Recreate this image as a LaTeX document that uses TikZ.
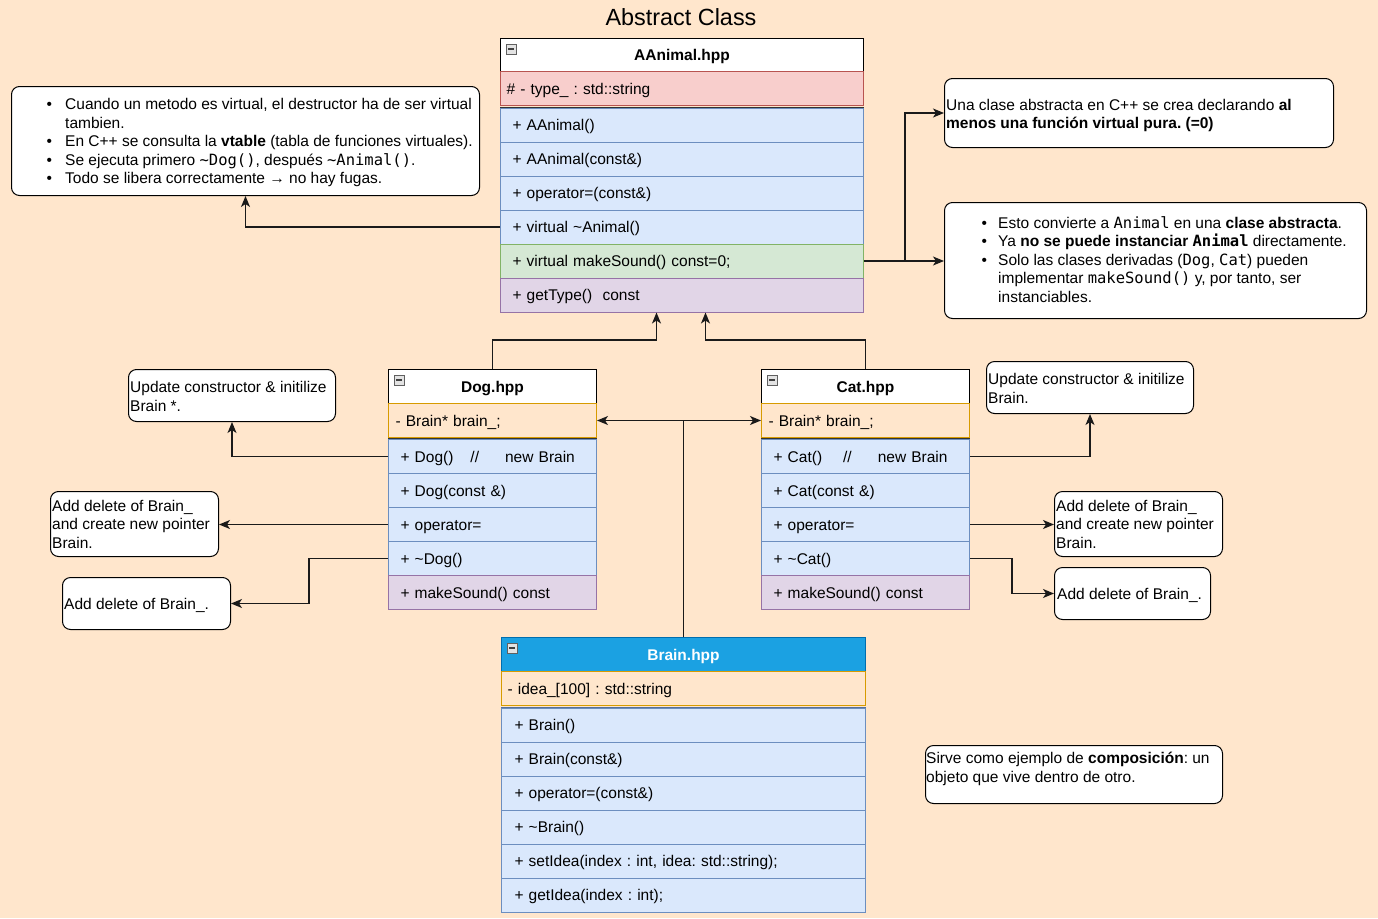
\documentclass[tikz,border=0pt]{standalone}
\usepackage{fontspec}
\setmainfont{Liberation Sans}
\newfontfamily\monofont{DejaVu Sans Mono}
\usetikzlibrary{arrows.meta,calc}

\definecolor{bgcol}{HTML}{FFE6CC}
\definecolor{blueF}{HTML}{DAE8FC}\definecolor{blueS}{HTML}{6C8EBF}
\definecolor{redF}{HTML}{F8CECC}\definecolor{redS}{HTML}{B85450}
\definecolor{greenF}{HTML}{D5E8D4}\definecolor{greenS}{HTML}{82B366}
\definecolor{purpF}{HTML}{E1D5E7}\definecolor{purpS}{HTML}{9673A6}
\definecolor{orF}{HTML}{FFE6CC}\definecolor{orS}{HTML}{D79B00}
\definecolor{brainF}{HTML}{1BA1E2}\definecolor{brainS}{HTML}{006EAF}
\definecolor{linecol}{HTML}{1A1A1A}

\newcommand\basefont{\fontsize{15.5pt}{18.5pt}\selectfont\frenchspacing}
\newcommand\mono[1]{{\monofont #1}}

% small collapse toggle in the top-left corner of a class header
\newcommand\hdrtoggle[1]{%
  \draw[fill=gray!22, draw=gray!75!black, line width=0.6pt]
    ([shift={(6pt,-6pt)}]#1.north west) rectangle ++(10pt,-10pt);
  \draw[line width=1.2pt, black!75]
    ([shift={(8pt,-11pt)}]#1.north west) -- ++(6pt,0pt);}

\tikzset{
  base/.style={anchor=north west, inner ysep=0pt, font=\basefont, text=black, line width=1pt,
               text height=11.5pt, text depth=0pt},
  hdr/.style={base, draw=black, fill=white, inner xsep=0pt, align=center, font=\basefont\bfseries},
  arow/.style={base, minimum height=34pt, align=left},
  mrow/.style={base, minimum height=34pt, inner xsep=12pt, align=left},
  cblue/.style={fill=blueF, draw=blueS},
  cred/.style={fill=redF, draw=redS},
  cgreen/.style={fill=greenF, draw=greenS},
  cpurp/.style={fill=purpF, draw=purpS},
  corange/.style={fill=orF, draw=orS},
  sepline/.style={line width=1.2pt, draw=black!80},
  note/.style={draw=black, fill=white, rounded corners=8pt, line width=1pt, anchor=north west, inner sep=0pt},
  ntext/.style={anchor=west, inner sep=0pt, align=left, font=\basefont, text=black, yshift=-2.5pt},
  arr/.style={draw=linecol, line width=1.3pt, -{Stealth[length=11pt,width=9pt,inset=3pt]}},
}

\begin{document}
\begin{tikzpicture}[x=1pt, y=-1pt]
\useasboundingbox (0,0) rectangle (1378,918);
\fill[bgcol] (0,0) rectangle (1378,918);

\node[font=\fontsize{23.4pt}{28pt}\selectfont, inner sep=0pt] (title) at (681,17) {Abstract Class};

% ---------------- AAnimal ----------------
\node[hdr, text width=363pt, minimum height=33pt] (aah) at (500,38) {AAnimal.hpp};
\hdrtoggle{aah}
\node[arow, cred, inner xsep=6pt, text width=351pt] (aaa) at (500,71) {\# - type\_ : std::string};
\draw[sepline] ([yshift=-1.5pt]aaa.south west) -- ([yshift=-1.5pt]aaa.south east);
\node[mrow, cblue, text width=339pt] (aa1) at (500,107.5) {+ AAnimal()};
\node[mrow, cblue, text width=339pt] (aa2) at (500,141.5) {+ AAnimal(const\&)};
\node[mrow, cblue, text width=339pt] (aa3) at (500,175.5) {+ operator=(const\&)};
\node[mrow, cblue, text width=339pt] (aa4) at (500,209.5) {+ virtual \textasciitilde Animal()};
\node[mrow, cgreen, text width=339pt] (aa5) at (500,243.5) {+ virtual makeSound() const=0;};
\node[mrow, cpurp, text width=339pt] (aa6) at (500,277.5) {+ getType()\ \ const};

% ---------------- Dog ----------------
\node[hdr, text width=208pt, minimum height=34pt] (dogh) at (388,369) {Dog.hpp};
\hdrtoggle{dogh}
\node[arow, corange, inner xsep=7pt, text width=194pt] (doga) at (388,403) {- Brain* brain\_;};
\draw[sepline] ([yshift=-1pt]doga.south west) -- ([yshift=-1pt]doga.south east);
\node[mrow, cblue, text width=184pt] (d1) at (388,439) {+ Dog()\hspace{17pt}//\hspace{26pt}new Brain};
\node[mrow, cblue, text width=184pt] (d2) at (388,473) {+ Dog(const \&)};
\node[mrow, cblue, text width=184pt] (d3) at (388,507) {+ operator=};
\node[mrow, cblue, text width=184pt] (d4) at (388,541) {+ \textasciitilde Dog()};
\node[mrow, cpurp, text width=184pt] (d5) at (388,575) {+ makeSound() const};

% ---------------- Cat ----------------
\node[hdr, text width=208pt, minimum height=34pt] (cath) at (761,369) {Cat.hpp};
\hdrtoggle{cath}
\node[arow, corange, inner xsep=7pt, text width=194pt] (cata) at (761,403) {- Brain* brain\_;};
\draw[sepline] ([yshift=-1pt]cata.south west) -- ([yshift=-1pt]cata.south east);
\node[mrow, cblue, text width=184pt] (c1) at (761,439) {+ Cat()\hspace{21pt}//\hspace{26pt}new Brain};
\node[mrow, cblue, text width=184pt] (c2) at (761,473) {+ Cat(const \&)};
\node[mrow, cblue, text width=184pt] (c3) at (761,507) {+ operator=};
\node[mrow, cblue, text width=184pt] (c4) at (761,541) {+ \textasciitilde Cat()};
\node[mrow, cpurp, text width=184pt] (c5) at (761,575) {+ makeSound() const};

% ---------------- Brain ----------------
\node[hdr, fill=brainF, draw=brainS, text=white, text width=364pt, minimum height=34pt] (brainh) at (501,637) {Brain.hpp};
\hdrtoggle{brainh}
\node[arow, corange, inner xsep=6pt, text width=352pt] (braina) at (501,671) {- idea\_[100] : std::string};
\draw[line width=1pt, draw=blueS!80!black] ([yshift=-1pt]braina.south west) -- ([yshift=-1pt]braina.south east);
\node[mrow, cblue, inner xsep=13pt, text width=338pt] (b1) at (501,707.5) {+ Brain()};
\node[mrow, cblue, inner xsep=13pt, text width=338pt] (b2) at (501,741.5) {+ Brain(const\&)};
\node[mrow, cblue, inner xsep=13pt, text width=338pt] (b3) at (501,775.5) {+ operator=(const\&)};
\node[mrow, cblue, inner xsep=13pt, text width=338pt] (b4) at (501,809.5) {+ \textasciitilde Brain()};
\node[mrow, cblue, inner xsep=13pt, text width=338pt] (b5) at (501,843.5) {+ setIdea(index : int, idea: std::string);};
\node[mrow, cblue, inner xsep=13pt, text width=338pt] (b6) at (501,877.5) {+ getIdea(index : int);};

% ---------------- notes ----------------
\node[note, minimum width=468pt, minimum height=109pt] (n1) at (11,86) {};
\node[ntext] (n1t) at (46.5,140.5) {\begin{tabular}{@{}p{18.5pt}@{}l@{}}
\textbullet & Cuando un metodo es virtual, el destructor ha de ser virtual\\
 & tambien.\\
\textbullet & En C++ se consulta la \textbf{vtable} (tabla de funciones virtuales).\\
\textbullet & Se ejecuta primero \mono{\textasciitilde Dog()}, después \mono{\textasciitilde Animal()}.\\
\textbullet & Todo se libera correctamente → no hay fugas.
\end{tabular}};

\node[note, minimum width=389pt, minimum height=69pt] (n2) at (944,78) {};
\node[ntext] (n2t) at (946,113) {Una clase abstracta en C++ se crea declarando \textbf{al}\\
\textbf{menos una función virtual pura. (=0)}};

\node[note, minimum width=422pt, minimum height=116pt] (n3) at (944,202) {};
\node[ntext] (n3t) at (981.5,259) {\begin{tabular}{@{}p{16.5pt}@{}l@{}}
\textbullet & Esto convierte a \mono{Animal} en una \textbf{clase abstracta}.\\
\textbullet & Ya \textbf{no se puede instanciar \mono{Animal}} directamente.\\
\textbullet & Solo las clases derivadas (\mono{Dog}, \mono{Cat}) pueden\\
 & implementar \mono{makeSound()} y, por tanto, ser\\
 & instanciables.
\end{tabular}};

\node[note, minimum width=207pt, minimum height=52pt] (dn1) at (128,369) {};
\node[ntext] (dn1t) at (130,394) {Update constructor \& initilize\\Brain *.};
\node[note, minimum width=168pt, minimum height=65pt] (dn2) at (50,491) {};
\node[ntext] (dn2t) at (52,521.5) {Add delete of Brain\_\\and create new pointer\\Brain.};
\node[note, minimum width=168pt, minimum height=52pt] (dn3) at (62,577) {};
\node[ntext] (dn3t) at (64,603) {Add delete of Brain\_.};

\node[note, minimum width=207pt, minimum height=52pt] (cn1) at (986,361) {};
\node[ntext] (cn1t) at (988,386) {Update constructor \& initilize\\Brain.};
\node[note, minimum width=168pt, minimum height=65pt] (cn2) at (1054,491) {};
\node[ntext] (cn2t) at (1056,521.5) {Add delete of Brain\_\\and create new pointer\\Brain.};
\node[note, minimum width=156pt, minimum height=52pt] (cn3) at (1054,567) {};
\node[ntext] (cn3t) at (1057,593) {Add delete of Brain\_.};

\node[note, minimum width=297pt, minimum height=58pt] (bn) at (925,745) {};
\node[ntext] (bnt) at (926,766.5) {Sirve como ejemplo de \textbf{composición}: un\\objeto que vive dentro de otro.};

% ---------------- connectors ----------------
\draw[arr] (dogh.north) -- ++(0,-29) -| ([xshift=-25.5pt]aa6.south);
\draw[arr] (cath.north) -- ++(0,-29) -| ([xshift=23.5pt]aa6.south);

\draw[arr] (brainh.north) |- (doga.east);
\draw[arr] (brainh.north) |- (cata.west);

\draw[arr] (aa4.west) -| (n1.south);
\draw[arr] (aa5.east) -- (aa5.east -| n3.west);
\draw[arr] (aa5.east) -- ++(41,0) |- (n2.west);

\draw[arr] (d1.west) -| (dn1.south);
\draw[arr] (d3.west) -- (d3.west -| dn2.east);
\draw[arr] (d4.west) -- ++(-79,0) |- (dn3.east);

\draw[arr] (c1.east) -| (cn1.south);
\draw[arr] (c3.east) -- (c3.east -| cn2.west);
\draw[arr] (c4.east) -- ++(42,0) |- (cn3.west);
\end{tikzpicture}
\end{document}
